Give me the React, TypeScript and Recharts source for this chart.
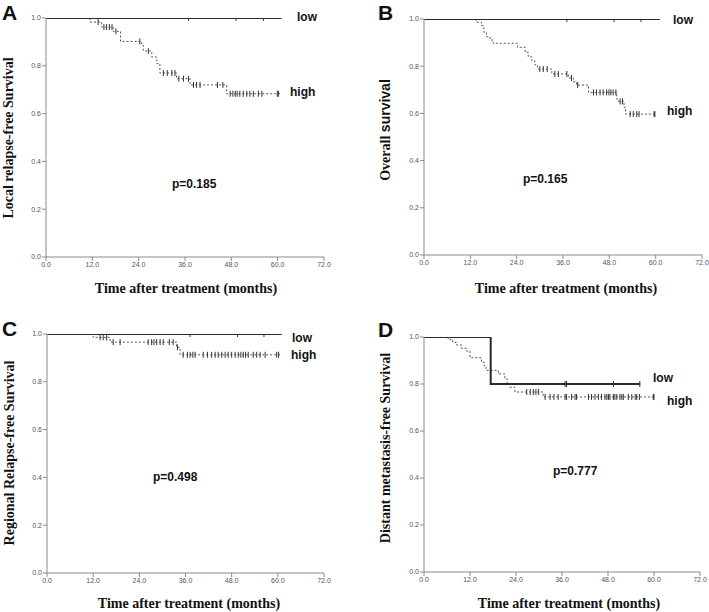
import { LineChart, Line, XAxis, YAxis } from 'recharts';

// time axis / survival axis ticks
const xTicks = [0, 12, 24, 36, 48, 60, 72];
const yTicks = [0, 0.2, 0.4, 0.6, 0.8, 1.0];

// A - local relapse-free survival
const aLowTimes: number[] = [];
const aLowSurv: number[] = [];
const aLowCens = [36.9, 49.2, 56.3];
const aLowEnd = 61.0;
const aHighTimes = [11.4, 14.4, 17.4, 19.3, 24.8, 25.2, 27.4, 28.7, 29.5, 33.8, 37.3, 46.8];
const aHighSurv = [0.983, 0.962, 0.944, 0.902, 0.886, 0.862, 0.837, 0.809, 0.77, 0.746, 0.72, 0.683];
const aHighCens = [13.5, 15.0, 15.7, 16.4, 17.1, 18.1, 24.3, 26.5, 30.4, 31.4, 32.6, 33.4, 34.4, 35.6, 36.9, 38.2, 39.0, 39.9, 44.4, 45.8, 47.7, 48.4, 49.0, 49.5, 50.2, 51.1, 52.0, 52.8, 53.7, 55.0, 55.9, 59.9, 60.2];
const aHighEnd = 60.6;

// B - overall survival
const bLowTimes: number[] = [];
const bLowSurv: number[] = [];
const bLowCens = [37.0, 49.2, 56.2];
const bLowEnd = 61.1;
const bHighTimes = [13.5, 14.9, 15.5, 16.2, 17.1, 17.9, 24.2, 26.2, 27.0, 27.9, 28.7, 29.4, 33.1, 37.4, 38.7, 39.5, 42.6, 49.9, 50.3, 51.8, 52.2];
const bHighSurv = [0.986, 0.972, 0.944, 0.925, 0.911, 0.897, 0.88, 0.859, 0.84, 0.823, 0.806, 0.788, 0.767, 0.75, 0.734, 0.72, 0.689, 0.661, 0.651, 0.626, 0.597];
const bHighCens = [30.0, 30.9, 31.9, 33.9, 34.8, 37.0, 38.2, 39.8, 43.9, 44.7, 45.6, 46.4, 47.3, 47.9, 48.4, 49.0, 49.7, 50.8, 51.4, 53.4, 54.2, 55.1, 55.7, 59.6, 59.8];
const bHighEnd = 60.3;

// C - regional relapse-free survival
const cLowTimes: number[] = [];
const cLowSurv: number[] = [];
const cLowCens = [37.2, 49.5, 56.4];
const cLowEnd = 61.0;
const cHighTimes = [12.0, 16.4, 33.7, 34.6];
const cHighSurv = [0.986, 0.966, 0.944, 0.913];
const cHighCens = [13.8, 14.6, 15.5, 17.2, 19.0, 26.3, 27.2, 27.8, 28.5, 29.4, 30.2, 31.8, 32.8, 33.9, 35.4, 36.5, 37.2, 37.9, 38.5, 40.6, 41.7, 42.8, 43.7, 44.5, 45.4, 46.3, 47.1, 48.0, 48.9, 49.7, 50.4, 51.0, 51.6, 52.3, 53.6, 54.5, 55.4, 56.7, 59.7, 60.2];
const cHighEnd = 60.6;

// D - distant metastasis-free survival
const dLowTimes = [17.4];
const dLowSurv = [0.8];
const dLowCens = [36.8, 37.2, 49.4, 56.3];
const dLowEnd = 56.4;
const dHighTimes = [6.3, 7.5, 8.5, 9.8, 11.1, 12.0, 15.0, 15.7, 16.2, 19.4, 21.1, 21.7, 22.4, 23.7, 31.1];
const dHighSurv = [0.989, 0.977, 0.966, 0.952, 0.94, 0.912, 0.893, 0.876, 0.858, 0.843, 0.822, 0.8, 0.786, 0.766, 0.745];
const dHighCens = [26.8, 27.7, 28.5, 29.2, 29.9, 31.6, 32.9, 33.9, 35.0, 36.8, 37.2, 38.5, 39.4, 39.8, 42.9, 43.7, 44.6, 45.5, 46.3, 47.2, 47.7, 48.1, 48.5, 49.4, 49.8, 50.3, 51.1, 51.6, 52.0, 53.3, 54.2, 55.1, 55.5, 56.2, 59.8, 60.0];
const dHighEnd = 60.3;

type Pt = { t: number; s: number; c?: boolean };

// km step points: start at 1, drops at event times, censored marks carry current value
function buildKm(times: number[], surv: number[], cens: number[], end: number): Pt[] {
  const survAt = (x: number) => {
    let s = 1;
    times.forEach((t, i) => {
      if (t <= x) s = surv[i];
    });
    return s;
  };
  const pts: Pt[] = [{ t: 0, s: 1 }];
  times.forEach((t, i) => pts.push({ t, s: surv[i] }));
  cens.forEach((t) => pts.push({ t, s: survAt(t), c: true }));
  pts.push({ t: end, s: survAt(end) });
  return pts.sort((a, b) => a.t - b.t);
}

const censorDot = (props: any) => {
  const { cx, cy, payload, index } = props;
  if (!payload || !payload.c) return <g key={`n-${index}`} />;
  return <path key={`c-${index}`} d={`M${cx},${cy - 3}V${cy + 3}`} stroke="#333" strokeWidth={1} />;
};

const fmt = (v: number) => v.toFixed(1);
const tickStyle = { fontSize: 7, fill: '#555', fontFamily: 'Liberation Sans, Arial, sans-serif' };

interface PanelProps {
  left: number;
  top: number;
  width: number;
  height: number;
  margin: { top: number; right: number; bottom: number; left: number };
  low: Pt[];
  high: Pt[];
}

const Panel = ({ left, top, width, height, margin, low, high }: PanelProps) => (
  <div style={{ position: 'absolute', left, top }}>
    <LineChart width={width} height={height} margin={margin}>
      <XAxis
        type="number"
        dataKey="t"
        domain={[0, 72]}
        ticks={xTicks}
        tickFormatter={fmt}
        stroke="#8a8a8a"
        tick={tickStyle}
        tickSize={4}
        tickMargin={1}
        height={20}
        allowDataOverflow
      />
      <YAxis
        type="number"
        dataKey="s"
        domain={[0, 1]}
        ticks={yTicks}
        tickFormatter={fmt}
        stroke="#8a8a8a"
        tick={tickStyle}
        tickSize={4}
        tickMargin={1}
        width={30}
        allowDataOverflow
      />
      <Line
        data={high}
        dataKey="s"
        type="stepAfter"
        stroke="#555"
        strokeWidth={1}
        strokeDasharray="2 2"
        dot={censorDot}
        activeDot={false}
        isAnimationActive={false}
      />
      <Line
        data={low}
        dataKey="s"
        type="stepAfter"
        stroke="#2a2a2a"
        strokeWidth={2}
        dot={censorDot}
        activeDot={false}
        isAnimationActive={false}
      />
    </LineChart>
  </div>
);

const serif = 'Liberation Serif, Times New Roman, serif';
const sans = 'Liberation Sans, Arial, sans-serif';

export default function App() {
  return (
    <div style={{ position: 'absolute', left: 0, top: 0, width: 709, height: 612, background: '#fff' }}>
      <Panel
        left={0}
        top={0}
        width={354}
        height={300}
        margin={{ top: 18, right: 30, bottom: 23, left: 16 }}
        low={buildKm(aLowTimes, aLowSurv, aLowCens, aLowEnd)}
        high={buildKm(aHighTimes, aHighSurv, aHighCens, aHighEnd)}
      />
      <Panel
        left={354}
        top={0}
        width={355}
        height={300}
        margin={{ top: 19, right: 7, bottom: 25, left: 40 }}
        low={buildKm(bLowTimes, bLowSurv, bLowCens, bLowEnd)}
        high={buildKm(bHighTimes, bHighSurv, bHighCens, bHighEnd)}
      />
      <Panel
        left={0}
        top={306}
        width={354}
        height={306}
        margin={{ top: 28, right: 30, bottom: 19, left: 17 }}
        low={buildKm(cLowTimes, cLowSurv, cLowCens, cLowEnd)}
        high={buildKm(cHighTimes, cHighSurv, cHighCens, cHighEnd)}
      />
      <Panel
        left={354}
        top={306}
        width={355}
        height={306}
        margin={{ top: 31, right: 9, bottom: 20, left: 40 }}
        low={buildKm(dLowTimes, dLowSurv, dLowCens, dLowEnd)}
        high={buildKm(dHighTimes, dHighSurv, dHighCens, dHighEnd)}
      />
      <svg width={709} height={612} style={{ position: 'absolute', left: 0, top: 0, pointerEvents: 'none' }}>
        <g fontFamily={sans} fontWeight="bold" fill="#111">
          <text x={2} y={19.5} fontSize={21}>A</text>
          <text x={378} y={19.5} fontSize={21}>B</text>
          <text x={2} y={336} fontSize={21}>C</text>
          <text x={378} y={337} fontSize={21}>D</text>

          <text x={297} y={20.5} fontSize={12}>low</text>
          <text x={290} y={96} fontSize={12}>high</text>
          <text x={673} y={24} fontSize={12}>low</text>
          <text x={667} y={115} fontSize={12}>high</text>
          <text x={292} y={342} fontSize={12}>low</text>
          <text x={291} y={359} fontSize={12}>high</text>
          <text x={653} y={382} fontSize={12}>low</text>
          <text x={667} y={405} fontSize={12}>high</text>

          <text x={172} y={187.5} fontSize={12}>p=0.185</text>
          <text x={523} y={182.5} fontSize={12}>p=0.165</text>
          <text x={153} y={481} fontSize={12}>p=0.498</text>
          <text x={553} y={475} fontSize={12}>p=0.777</text>
        </g>
        <g fontFamily={serif} fontWeight="bold" fontSize={14} fill="#111" textAnchor="middle">
          <text x={186} y={292.5}>Time after treatment (months)</text>
          <text x={566} y={293}>Time after treatment (months)</text>
          <text x={189} y={608}>Time after treatment (months)</text>
          <text x={569} y={608}>Time after treatment (months)</text>

          <text transform="translate(13,138) rotate(-90)">Local relapse-free Survival</text>
          <text transform="translate(390,130) rotate(-90)">
            <tspan>Overall  </tspan>
            <tspan fontFamily={sans}>survival</tspan>
          </text>
          <text transform="translate(13.5,453) rotate(-90)">Regional Relapse-free Survival</text>
          <text transform="translate(390,448) rotate(-90)">Distant metastasis-free Survival</text>
        </g>
      </svg>
    </div>
  );
}
